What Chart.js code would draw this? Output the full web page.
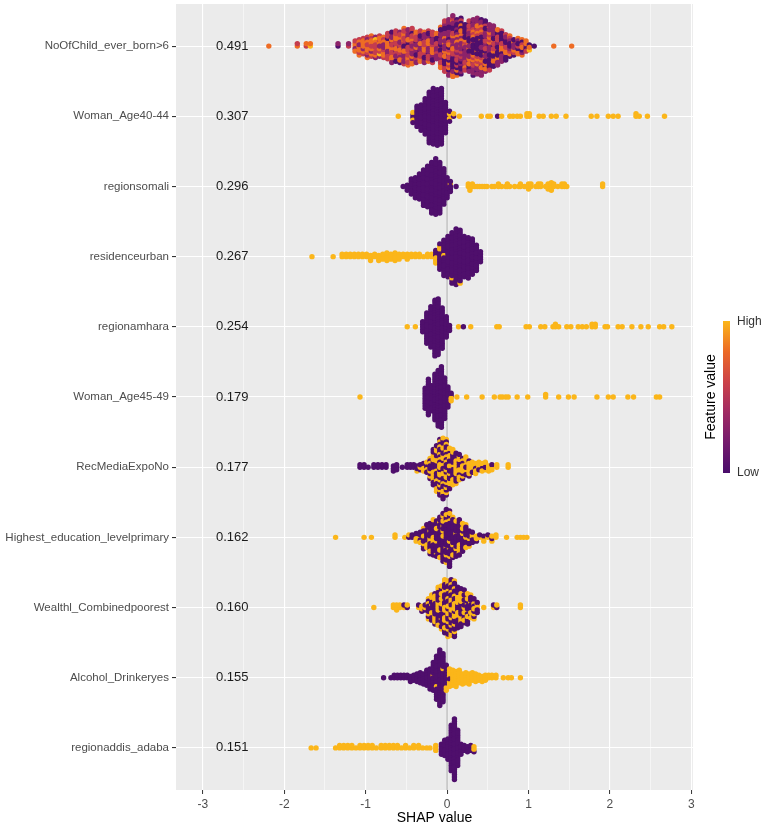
<!DOCTYPE html>
<html lang="en">
<head>
  <meta charset="UTF-8" />
  <title>SHAP summary plot</title>
  <script src="https://cdn.jsdelivr.net/npm/chart.js"></script>
  <style>
    body { margin: 0; background: #fff; }
    canvas { display: block; }
  </style>
</head>
<body>
  <canvas id="shapChart" width="764" height="827"></canvas>

  <script>
    const features = [
      "NoOfChild_ever_born>6", "Woman_Age40-44", "regionsomali", "residenceurban",
      "regionamhara", "Woman_Age45-49", "RecMediaExpoNo", "Highest_education_levelprimary",
      "Wealthl_Combinedpoorest", "Alcohol_Drinkeryes", "regionaddis_adaba"
    ];
    const meanAbsShap = ["0.491", "0.307", "0.296", "0.267", "0.254", "0.179", "0.177", "0.162", "0.160", "0.155", "0.151"];
    const xTicks = [-3, -2.5, -2, -1.5, -1, -0.5, 0, 0.5, 1, 1.5, 2, 2.5, 3];

    // each bin: [shap value, number of points per feature-value level]
    // first feature has 5 levels (purple .. yellow), the rest are low / high
    const binsChildBorn = [
      [-2.19,0,0,0,1,0],[-1.84,0,0,1,1,0],[-1.73,0,0,1,1,0],[-1.68,0,0,0,1,1],
      [-1.34,1,1,0,0,0],[-1.21,0,1,1,0,0],
      [-1.13,0,1,1,3,0],[-1.08,0,1,2,4,0],[-1.03,0,1,2,4,0],[-0.98,0,2,3,4,0],[-0.93,0,1,3,5,0],
      [-0.88,0,2,3,3,1],[-0.83,0,2,3,3,1],[-0.78,0,2,3,4,0],[-0.73,1,2,4,4,0],[-0.68,1,3,4,5,0],
      [-0.63,1,3,5,4,0],[-0.58,1,4,4,4,0],[-0.53,1,4,5,5,0],[-0.48,1,4,5,5,0],[-0.43,1,4,6,4,0],
      [-0.38,2,4,4,3,0],[-0.33,2,4,4,3,0],[-0.28,2,4,4,3,0],[-0.23,2,4,4,3,0],[-0.18,2,4,4,3,0],
      [-0.13,2,4,3,2,0],[-0.08,4,6,4,3,0],[-0.03,5,7,5,4,0],[0.02,6,8,5,4,0],[0.07,7,8,5,5,0],
      [0.12,7,8,4,4,0],[0.17,7,8,4,4,0],[0.22,6,6,4,3,0],[0.27,6,7,4,4,0],[0.32,7,7,5,4,0],
      [0.37,7,7,4,5,0],[0.42,7,7,4,5,0],[0.47,7,6,4,4,0],[0.52,6,6,4,3,0],[0.57,6,5,3,3,0],
      [0.62,5,4,3,3,0],[0.67,5,3,2,3,0],[0.72,4,3,2,2,0],[0.77,3,2,2,2,0],[0.82,2,2,1,2,0],
      [0.87,2,1,1,3,0],[0.92,2,1,1,3,0],[0.97,1,1,1,2,0],[1.01,1,0,0,1,1],[1.07,1,0,0,0,0],
      [1.31,0,0,0,1,0],[1.53,0,0,0,1,0]
    ];
    const binsAge4044 = [
      [-0.60,0,1],[-0.42,3,2],[-0.37,9,0],[-0.32,11,0],[-0.27,15,0],[-0.22,21,0],[-0.17,23,0],
      [-0.12,23,0],[-0.07,23,0],[-0.02,13,0],[0.03,3,2],[0.08,1,1],
      [0.15,0,1],[0.42,0,1],[0.50,0,1],[0.53,0,1],[0.62,1,0],[0.67,0,1],[0.77,0,1],[0.81,0,1],
      [0.86,0,1],[0.90,0,1],[0.98,0,2],[1.01,0,2],[1.13,0,1],[1.18,0,1],[1.28,0,1],[1.34,0,1],
      [1.46,0,1],[1.77,0,1],[1.84,0,1],[1.98,0,1],[2.04,0,1],[2.10,0,1],[2.32,0,2],[2.36,0,1],
      [2.46,0,1],[2.67,0,1]
    ];
    const binsSomali = [
      [-0.54,1,0],[-0.49,3,0],[-0.44,7,0],[-0.39,9,0],[-0.34,11,0],[-0.29,15,0],[-0.24,17,0],
      [-0.19,21,0],[-0.14,23,0],[-0.09,21,0],[-0.04,15,0],[0.00,9,0],[0.04,4,1],[0.11,1,0],
      [0.26,0,2],[0.28,0,3],[0.31,0,2],[0.34,0,1],[0.37,0,1],[0.40,0,1],[0.43,0,1],[0.46,0,1],
      [0.49,0,1],[0.55,0,1],[0.58,0,1],[0.63,0,2],[0.67,0,1],[0.72,0,1],[0.74,0,2],[0.77,0,1],
      [0.83,0,1],[0.88,0,1],[0.90,0,2],[0.95,0,1],[1.00,0,3],[1.03,0,2],[1.09,0,1],[1.12,0,2],
      [1.15,0,2],[1.21,0,1],[1.24,0,3],[1.28,0,4],[1.31,0,2],[1.36,0,1],[1.41,0,2],[1.44,0,2],
      [1.47,0,1],[1.91,0,2]
    ];
    const binsUrban = [
      [-1.66,0,1],[-1.40,0,1],[-1.29,0,2],[-1.24,0,2],[-1.19,0,2],[-1.14,0,2],[-1.09,0,2],
      [-1.04,0,2],[-0.99,0,2],[-0.94,0,3],[-0.89,0,2],[-0.84,0,3],[-0.79,0,3],[-0.74,0,4],
      [-0.69,0,3],[-0.64,0,4],[-0.59,0,3],[-0.54,0,2],[-0.49,0,3],[-0.44,0,2],[-0.39,0,2],
      [-0.34,0,2],[-0.29,0,1],[-0.24,0,2],[-0.19,0,2],[-0.14,3,3],[-0.09,9,2],[-0.04,14,1],
      [0.01,17,0],[0.06,20,1],[0.11,23,0],[0.16,21,1],[0.21,17,0],[0.26,17,0],[0.31,15,0],
      [0.36,11,0],[0.41,5,0]
    ];
    const binsAmhara = [
      [-0.49,0,1],[-0.39,0,1],[-0.30,5,0],[-0.25,13,0],[-0.20,17,0],[-0.15,23,0],[-0.11,23,0],
      [-0.06,17,0],[-0.01,9,0],[0.03,3,0],[0.14,0,1],[0.20,1,0],[0.29,0,1],[0.61,0,1],[0.64,0,1],
      [0.97,0,1],[1.01,0,1],[1.15,0,1],[1.20,0,1],[1.30,0,1],[1.33,0,2],[1.37,0,1],[1.47,0,1],
      [1.52,0,1],[1.61,0,1],[1.66,0,1],[1.71,0,1],[1.78,0,2],[1.82,0,2],[1.94,0,1],[1.97,0,1],
      [2.10,0,1],[2.15,0,1],[2.27,0,1],[2.38,0,1],[2.47,0,1],[2.61,0,1],[2.66,0,1],[2.76,0,1]
    ];
    const binsAge4549 = [
      [-1.07,0,1],[-0.27,9,0],[-0.23,15,0],[-0.19,11,0],[-0.15,19,0],[-0.11,23,0],[-0.07,25,0],
      [-0.03,17,0],[0.01,9,0],[0.05,2,2],[0.12,0,1],[0.24,0,1],[0.43,0,1],[0.58,0,1],[0.65,0,1],
      [0.68,0,1],[0.72,0,1],[0.75,0,1],[0.86,0,1],[0.99,0,1],[1.21,0,2],[1.37,0,1],[1.49,0,1],
      [1.56,0,1],[1.84,0,1],[1.98,0,1],[2.04,0,1],[2.22,0,1],[2.29,0,1],[2.57,0,1],[2.61,0,1]
    ];
    const binsMediaNo = [
      [-1.07,2,0],[-1.02,2,0],[-0.97,1,0],[-0.90,2,0],[-0.85,2,0],[-0.80,2,0],[-0.75,2,0],
      [-0.66,3,0],[-0.62,3,0],[-0.55,1,0],[-0.49,2,0],[-0.45,2,0],[-0.41,2,0],[-0.37,2,1],
      [-0.33,2,1],[-0.29,2,2],[-0.25,3,2],[-0.21,5,4],[-0.17,8,7],[-0.13,11,8],[-0.09,12,11],
      [-0.05,13,12],[-0.01,12,11],[0.03,9,8],[0.07,8,7],[0.11,6,7],[0.15,5,6],[0.19,4,5],
      [0.23,3,5],[0.27,2,5],[0.31,1,4],[0.35,1,4],[0.39,1,3],[0.43,1,3],[0.47,1,3],[0.51,0,3],
      [0.55,1,2],[0.61,0,2],[0.75,0,2]
    ];
    const binsPrimaryEdu = [
      [-1.37,0,1],[-1.02,0,1],[-0.93,0,1],[-0.64,0,2],[-0.52,0,1],[-0.47,1,1],[-0.43,2,0],
      [-0.38,2,2],[-0.33,3,2],[-0.29,6,3],[-0.25,7,3],[-0.21,9,4],[-0.17,11,4],[-0.13,12,3],
      [-0.09,13,4],[-0.05,15,5],[-0.01,17,5],[0.03,18,5],[0.07,14,3],[0.11,12,3],[0.15,11,4],
      [0.19,9,3],[0.23,7,3],[0.27,5,2],[0.31,3,2],[0.36,1,2],[0.40,1,1],[0.45,1,2],[0.50,1,1],
      [0.55,1,2],[0.60,0,2],[0.73,0,1],[0.86,0,1],[0.90,0,1],[0.94,0,1],[0.98,0,1]
    ];
    const binsPoorest = [
      [-0.90,0,1],[-0.66,0,2],[-0.62,0,3],[-0.58,0,2],[-0.53,1,1],[-0.49,1,1],[-0.35,1,1],
      [-0.31,1,2],[-0.27,2,1],[-0.23,5,4],[-0.19,6,5],[-0.15,7,6],[-0.11,9,7],[-0.07,10,8],
      [-0.03,12,10],[0.01,13,10],[0.05,13,10],[0.09,13,10],[0.13,10,7],[0.17,9,7],[0.21,8,6],
      [0.25,8,5],[0.29,6,4],[0.33,5,4],[0.37,3,2],[0.45,0,1],[0.57,1,1],[0.61,1,1],[0.90,0,2]
    ];
    const binsAlcohol = [
      [-0.78,1,0],[-0.69,1,0],[-0.65,2,0],[-0.61,2,0],[-0.57,2,0],[-0.53,2,0],[-0.49,2,0],
      [-0.45,3,0],[-0.41,3,0],[-0.37,4,0],[-0.33,5,0],[-0.29,5,0],[-0.25,7,0],[-0.21,9,0],
      [-0.17,11,1],[-0.13,17,1],[-0.09,23,0],[-0.05,19,1],[-0.01,9,2],[0.03,1,7],[0.07,0,7],
      [0.11,0,7],[0.15,0,6],[0.19,0,5],[0.23,0,5],[0.27,0,5],[0.31,0,4],[0.35,0,4],[0.39,0,3],
      [0.43,0,3],[0.47,0,3],[0.51,0,2],[0.55,0,2],[0.60,0,2],[0.69,0,1],[0.75,0,1],[0.79,0,1],
      [0.90,0,1]
    ];
    const binsAddis = [
      [-1.67,0,1],[-1.61,0,1],[-1.37,0,1],[-1.32,0,2],[-1.27,0,2],[-1.22,0,2],[-1.17,0,2],
      [-1.12,0,1],[-1.07,0,2],[-1.02,0,2],[-0.97,0,2],[-0.92,0,2],[-0.87,0,1],[-0.81,0,2],
      [-0.76,0,2],[-0.71,0,2],[-0.66,0,2],[-0.61,0,2],[-0.56,0,1],[-0.51,0,2],[-0.46,0,1],
      [-0.41,0,2],[-0.35,0,2],[-0.30,0,1],[-0.25,0,1],[-0.21,0,1],[-0.14,0,3],
      [-0.07,5,0],[-0.03,7,0],[0.01,9,0],[0.05,19,0],[0.09,25,0],[0.13,15,0],[0.17,5,0],
      [0.21,3,0],[0.25,3,0],[0.29,3,0],[0.33,1,2]
    ];

    const featureBins = [binsChildBorn, binsAge4044, binsSomali, binsUrban, binsAmhara, binsAge4549,
      binsMediaNo, binsPrimaryEdu, binsPoorest, binsAlcohol, binsAddis];

    const fiveLevelColors = ["#4f0f6c", "#8c2369", "#c43c4e", "#ee6c24", "#fbb61a"];
    const twoLevelColors = ["#4f0f6c", "#fbb61a"];
    const stackStep = 0.036; // vertical spacing of stacked points, in row units

    // spread the levels of one bin evenly through its stack
    function interleave(counts, shift) {
      const total = counts.reduce((a, b) => a + b, 0);
      const used = counts.map(() => 0);
      const seq = [];
      for (let i = 0; i < total; i++) {
        let best = -1, bestScore = -Infinity;
        counts.forEach((c, j) => {
          if (used[j] >= c) return;
          const score = (i + 1) * c / total - used[j] + ((j + shift) % counts.length) * 1e-3;
          if (score > bestScore) { bestScore = score; best = j; }
        });
        used[best]++;
        seq.push(best);
      }
      return seq;
    }

    function gcd(a, b) { return b ? gcd(b, a % b) : a; }

    const points = [];
    featureBins.forEach((bins, r) => {
      bins.forEach((b, bi) => {
        const counts = b.slice(1);
        const palette = counts.length > 2 ? fiveLevelColors : twoLevelColors;
        const seq = interleave(counts, bi);
        const n = seq.length;
        // stack slots 0, +1, -1, +2, -2 ... visited in a scrambled order
        const slots = seq.map((_, k) => k === 0 ? 0 : Math.ceil(k / 2) * (k % 2 ? -1 : 1));
        const hop = [7, 5, 11, 3, 13, 1].find(h => gcd(h, n) === 1 || n === 1);
        const half = bi % 2 ? 0.5 : 0;
        seq.forEach((lvl, i) => {
          const off = n > 2 ? slots[(i * hop + bi) % n] : slots[i];
          const y = r + 1 + (off + (n > 2 ? half : 0)) * stackStep;
          points.push({ x: b[0], y: y, c: palette[lvl] });
        });
      });
    });

    const FONT = "'Liberation Sans', Arial, sans-serif";

    const panelPlugin = {
      id: "panel",
      beforeDraw(chart) {
        const { ctx, chartArea: a } = chart;
        ctx.save();
        ctx.fillStyle = "#ebebeb";
        ctx.fillRect(a.left, a.top, a.right - a.left, a.bottom - a.top);
        ctx.restore();
      },
      beforeDatasetsDraw(chart) {
        const { ctx, chartArea: a, scales } = chart;
        const x0 = scales.x.getPixelForValue(0);
        ctx.save();
        ctx.strokeStyle = "#a8a8a8";
        ctx.lineWidth = 1;
        ctx.beginPath();
        ctx.moveTo(x0, a.top);
        ctx.lineTo(x0, a.bottom);
        ctx.stroke();
        ctx.restore();
      },
      afterDatasetsDraw(chart) {
        const { ctx, scales } = chart;
        ctx.save();
        ctx.font = "13px " + FONT;
        ctx.fillStyle = "#1a1a1a";
        ctx.textAlign = "center";
        ctx.textBaseline = "middle";
        meanAbsShap.forEach((t, i) => {
          ctx.fillText(t, scales.x.getPixelForValue(-2.64), scales.y.getPixelForValue(i + 1));
        });
        ctx.restore();
      },
      afterDraw(chart) {
        const { ctx } = chart;
        const bx = 723, bw = 7, top = 321, bottom = 473;
        ctx.save();
        const g = ctx.createLinearGradient(0, bottom, 0, top);
        g.addColorStop(0, "#4a0c6b");
        g.addColorStop(0.2, "#741a6d");
        g.addColorStop(0.4, "#a02a63");
        g.addColorStop(0.6, "#cc4248");
        g.addColorStop(0.8, "#ec6a26");
        g.addColorStop(1, "#fbb61a");
        ctx.fillStyle = g;
        ctx.fillRect(bx, top, bw, bottom - top);
        ctx.fillStyle = "#333";
        ctx.font = "12px " + FONT;
        ctx.textAlign = "left";
        ctx.textBaseline = "middle";
        ctx.fillText("High", 737, top + 1);
        ctx.fillText("Low", 737, bottom);
        ctx.translate(711, (top + bottom) / 2);
        ctx.rotate(-Math.PI / 2);
        ctx.textAlign = "center";
        ctx.fillStyle = "#000";
        ctx.font = "14px " + FONT;
        ctx.fillText("Feature value", 0, 0);
        ctx.restore();
      }
    };

    new Chart(document.getElementById("shapChart"), {
      type: "scatter",
      data: {
        datasets: [{
          data: points,
          pointRadius: 2.7,
          pointHoverRadius: 2.7,
          pointBorderWidth: 0,
          backgroundColor: ctx => ctx.raw ? ctx.raw.c : "#000",
        }]
      },
      options: {
        responsive: false,
        animation: false,
        devicePixelRatio: 1,
        layout: { padding: { top: 4, right: 71, left: 0, bottom: 0 } },
        plugins: { legend: { display: false }, tooltip: { enabled: false } },
        scales: {
          x: {
            type: "linear",
            min: -3.33,
            max: 3.02,
            afterBuildTicks: scale => { scale.ticks = xTicks.map(v => ({ value: v })); },
            afterFit: scale => { scale.height = 37; scale.paddingLeft = 0; scale.paddingRight = 0; },
            border: { display: false },
            grid: {
              color: "#ffffff",
              lineWidth: c => Number.isInteger(c.tick.value) ? 1.1 : 0.5,
              tickColor: c => Number.isInteger(c.tick.value) ? "#333333" : "rgba(0,0,0,0)",
              tickLength: 4,
              tickWidth: 1,
            },
            ticks: {
              padding: 3,
              color: "#4d4d4d",
              font: { family: FONT, size: 12 },
              callback: v => Number.isInteger(v) ? String(v) : "",
            },
            title: {
              display: true,
              text: "SHAP value",
              color: "#000",
              font: { family: FONT, size: 14 },
              padding: { top: 0, bottom: 0 },
            },
          },
          y: {
            type: "linear",
            reverse: true,
            min: 0.4,
            max: 11.6,
            afterBuildTicks: scale => { scale.ticks = features.map((_, i) => ({ value: i + 1 })); },
            afterFit: scale => { scale.width = 176; scale.paddingTop = 0; scale.paddingBottom = 0; },
            border: { display: false },
            grid: {
              color: "#ffffff",
              lineWidth: 1.1,
              tickColor: "#333333",
              tickLength: 4,
            },
            ticks: {
              padding: 3,
              color: "#4d4d4d",
              font: { family: FONT, size: 11.5 },
              callback: v => features[v - 1] || "",
            },
          },
        },
      },
      plugins: [panelPlugin],
    });
  </script>
</body>
</html>
